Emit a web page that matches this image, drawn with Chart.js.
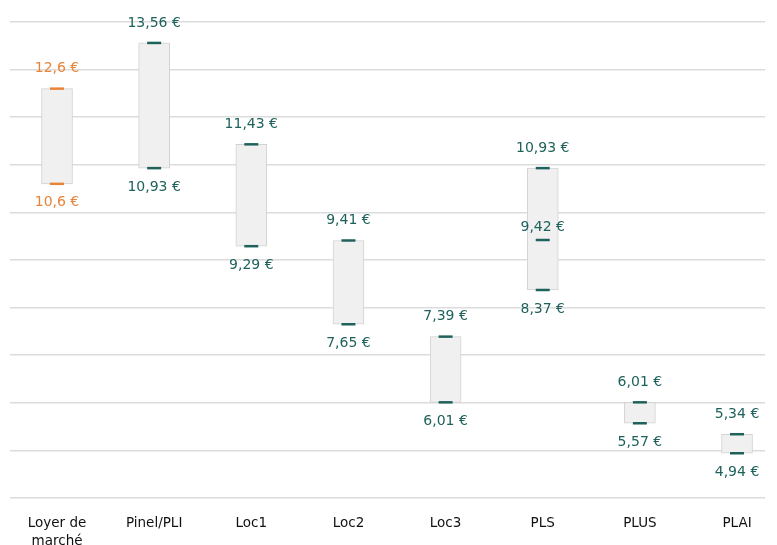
<!DOCTYPE html>
<html>
<head>
<meta charset="utf-8">
<script src="https://cdn.jsdelivr.net/npm/chart.js@4.4.1/dist/chart.umd.min.js"></script>
<style>
  html, body { margin: 0; padding: 0; background: #fff; }
</style>
</head>
<body>
<canvas id="graphLoyers" width="777" height="545"></canvas>
<script>
// Loyers au m² par dispositif (min / max)
const categories = [["Loyer de", "marché"], "Pinel/PLI", "Loc1", "Loc2", "Loc3", "PLS", "PLUS", "PLAI"];
const loyerMin = [10.6, 10.93, 9.29, 7.65, 6.01, 8.37, 5.57, 4.94];
const loyerMax = [12.6, 13.56, 11.43, 9.41, 7.39, 10.93, 6.01, 5.34];
const loyerMilieu = [null, null, null, null, null, 9.42, null, null];
const yTicks = [4, 5, 6, 7, 8, 9, 10, 11, 12, 13, 14];

const TEAL = "#1f625c";
const ORANGE = "#e8843a";
const couleurs = categories.map((c, i) => i === 0 ? ORANGE : TEAL);

const fmt = v => String(v).replace(".", ",") + " €";

// étiquettes des valeurs au-dessus / en dessous des barres
const etiquettes = {
  id: "etiquettes",
  afterDatasetsDraw(chart) {
    const ctx = chart.ctx;
    const xs = chart.scales.x, ys = chart.scales.y;
    ctx.save();
    ctx.font = "14px 'DejaVu Sans'";
    ctx.textAlign = "center";
    ctx.textBaseline = "middle";
    categories.forEach((c, i) => {
      const x = xs.getPixelForValue(i);
      ctx.fillStyle = couleurs[i];
      ctx.fillText(fmt(loyerMax[i]), x, ys.getPixelForValue(loyerMax[i]) - 20);
      ctx.fillText(fmt(loyerMin[i]), x, ys.getPixelForValue(loyerMin[i]) + 19);
      if (loyerMilieu[i] != null) {
        ctx.fillText(fmt(loyerMilieu[i]), x, ys.getPixelForValue(loyerMilieu[i]) - 13);
      }
    });
    ctx.restore();
  }
};

const marqueur = (vals) => ({
  type: "scatter",
  order: 1,
  data: vals.map((v, i) => ({ x: i, y: v })),
  pointStyle: "line",
  radius: 7,
  hoverRadius: 7,
  borderWidth: 2.5,
  borderColor: couleurs,
  backgroundColor: couleurs
});

new Chart(document.getElementById("graphLoyers"), {
  type: "bar",
  data: {
    datasets: [
      {
        order: 2,
        data: loyerMin.map((v, i) => ({ x: i, y: [v, loyerMax[i]] })),
        backgroundColor: "#f0f0f0",
        borderColor: "#d2d2d2",
        borderWidth: 1,
        borderSkipped: false,
        barThickness: 31
      },
      marqueur(loyerMax),
      marqueur(loyerMin),
      marqueur(loyerMilieu)
    ]
  },
  options: {
    responsive: false,
    animation: false,
    devicePixelRatio: 1,
    layout: { padding: { left: 10, right: 12, top: 22, bottom: 0 } },
    plugins: {
      legend: { display: false },
      tooltip: { enabled: false }
    },
    scales: {
      x: {
        type: "linear",
        offset: false,
        min: -0.484,
        max: 7.288,
        grid: { display: false, drawTicks: false },
        border: { display: false },
        afterBuildTicks: (axis) => {
          axis.ticks = categories.map((c, i) => ({ value: i }));
        },
        afterFit: (axis) => { axis.height = 47; },
        ticks: {
          autoSkip: false,
          maxRotation: 0,
          padding: 16,
          color: "#111",
          font: { family: "'DejaVu Sans'", size: 13.5, lineHeight: 1.35 },
          callback: (v) => categories[v] ?? ""
        }
      },
      y: {
        min: yTicks[0],
        max: yTicks[yTicks.length - 1],
        afterBuildTicks: (axis) => {
          axis.ticks = yTicks.map(v => ({ value: v }));
        },
        ticks: { display: false },
        grid: { color: "#dcdcdc", lineWidth: 1.5, drawTicks: false },
        border: { display: false }
      }
    }
  },
  plugins: [etiquettes]
});
</script>
</body>
</html>
